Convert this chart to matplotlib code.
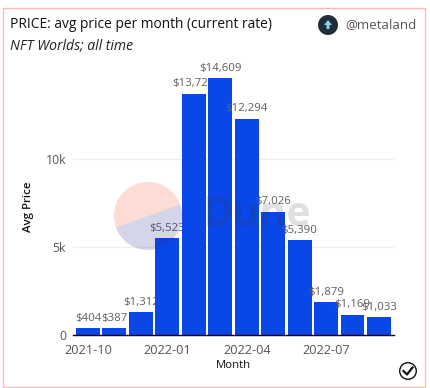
import matplotlib
matplotlib.use("Agg")
import matplotlib.pyplot as plt
from matplotlib.patches import Circle, Rectangle, Polygon, Wedge

months = ["2021-10", "2021-11", "2021-12", "2022-01", "2022-02", "2022-03",
          "2022-04", "2022-05", "2022-06", "2022-07", "2022-08", "2022-09"]
avg_price = [404, 387, 1312, 5523, 13724, 14609, 12294, 7026, 5390, 1879, 1169, 1033]
y_ticks = [0, 5000, 10000]
y_tick_labels = ["0", "5k", "10k"]
x_tick_idx = [0, 3, 6, 9]

W, H = 430, 388
FONT = "Open Sans"
plt.rcParams["font.family"] = FONT

fig = plt.figure(figsize=(W / 100, H / 100), dpi=100, facecolor="white")


def px(v):
    return v * 72 / 100


# plot area in pixels
left, right, base, top = 73, 394, 335.3, 60
ax = fig.add_axes([left / W, 1 - base / H, (right - left) / W, (base - top) / H], zorder=2)
ax.patch.set_alpha(0)
step = 26.45
ax.set_xlim((left - 88) / step, (right - 88) / step)
ax.set_ylim(0, (base - top) / 88 * 5000)

for s in ["top", "right", "left"]:
    ax.spines[s].set_visible(False)
ax.spines["bottom"].set_color("black")
ax.spines["bottom"].set_linewidth(1)
ax.spines["bottom"].set_zorder(100)

for y in y_ticks[1:]:
    ax.axhline(y, color="#eff0f2", lw=1, zorder=0)

for i, v in enumerate(avg_price):
    ax.bar(i, v, width=0.907, color="#0a47e8", zorder=2 + 2 * i)
    ax.text(i, v + 260, f"${v:,}", ha="center", va="bottom", color="#5f5f5f",
            fontsize=px(11.4), zorder=3 + 2 * i)

ax.set_xticks(x_tick_idx)
ax.set_xticklabels([months[i] for i in x_tick_idx], fontsize=px(12.8), color="#555555")
ax.set_yticks(y_ticks)
ax.set_yticklabels(y_tick_labels, fontsize=px(12.2), color="#555555")
ax.tick_params(axis="x", length=0, pad=6)
ax.tick_params(axis="y", length=0, pad=5)

# overlay in pixel coordinates for card furniture and watermark
ov = fig.add_axes([0, 0, 1, 1], zorder=3)
ov.set_xlim(0, W)
ov.set_ylim(H, 0)
ov.axis("off")
ov.patch.set_alpha(0)

ov.add_patch(Rectangle((2.7, 7.5), 422, 379, fill=False, ec="#ffb9b4", lw=1))

ov.add_patch(Wedge((148, 216), 34, 160, 340, fc="#f05030", alpha=0.2, lw=0))
ov.add_patch(Wedge((148, 216), 34, 340, 160, fc="#2b2d8c", alpha=0.2, lw=0))
ov.text(257, 216, "Dune", ha="center", va="center", fontsize=px(41), fontweight="bold",
        color="#333333", alpha=0.15)

ov.text(10, 25, "PRICE: avg price per month (current rate)", fontsize=px(13.8),
        color="#111111", va="center", ha="left")
ov.text(10, 46, "NFT Worlds; all time", fontsize=px(14), style="italic",
        color="#222222", va="center", ha="left")
ov.text(345, 25, "@metaland", fontsize=px(13.3), color="#555555", va="center", ha="left")

ov.add_patch(Circle((328, 25), 10, fc="#1d2e38", ec="none"))
ov.add_patch(Polygon([(328, 20), (332, 25), (329.5, 25), (329.5, 29), (326.5, 29), (326.5, 25), (324, 25)],
                     fc="#8fd0e0", ec="none"))

ov.text(29, 207, "Avg Price", rotation=90, fontsize=px(11.4), color="#111111",
        va="center", ha="center", fontweight="semibold")
ov.text(233, 365, "Month", fontsize=px(11.4), color="#111111", va="center", ha="center")

ov.add_patch(Circle((408, 371), 8.3, fc="none", ec="#111111", lw=1))
ov.plot([403.5, 407, 412.5], [371, 374.5, 367.5], color="#111111", lw=1.6)

fig.savefig("out.png", dpi=100, facecolor="white")
